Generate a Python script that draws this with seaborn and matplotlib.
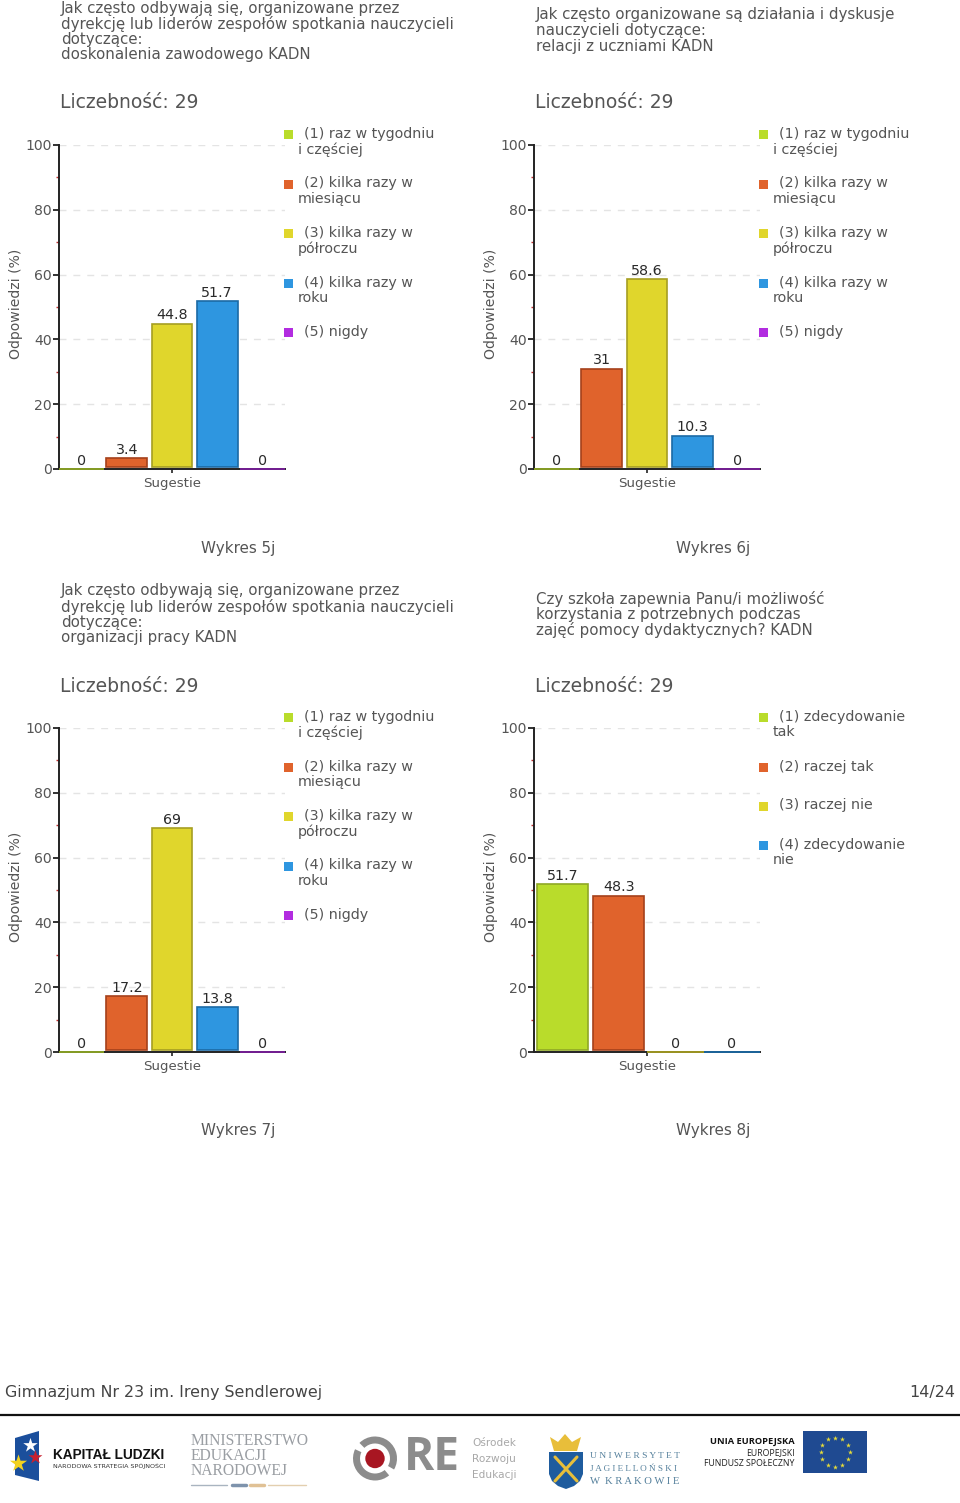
import numpy as np
import pandas as pd
import matplotlib
matplotlib.use("Agg")
import matplotlib.pyplot as plt
from matplotlib.patches import Polygon, Circle, Rectangle, Wedge
import seaborn as sns

# ─── Data ─────────────────────────────────────────────────────────────────────
freq_options = ["(1) raz w tygodniu\ni częściej", "(2) kilka razy w\nmiesiącu",
                "(3) kilka razy w\npółroczu", "(4) kilka razy w\nroku", "(5) nigdy"]
agree_options = ["(1) zdecydowanie\ntak", "(2) raczej tak", "(3) raczej nie",
                 "(4) zdecydowanie\nnie"]

values_5j = [0, 3.4, 44.8, 51.7, 0]
values_6j = [0, 31, 58.6, 10.3, 0]
values_7j = [0, 17.2, 69, 13.8, 0]
values_8j = [51.7, 48.3, 0, 0]

title_5j = ["Jak często odbywają się, organizowane przez",
            "dyrekcję lub liderów zespołów spotkania nauczycieli",
            "dotyczące:", "doskonalenia zawodowego KADN"]
title_6j = ["Jak często organizowane są działania i dyskusje",
            "nauczycieli dotyczące:", "relacji z uczniami KADN"]
title_7j = ["Jak często odbywają się, organizowane przez",
            "dyrekcję lub liderów zespołów spotkania nauczycieli",
            "dotyczące:", "organizacji pracy KADN"]
title_8j = ["Czy szkoła zapewnia Panu/i możliwość",
            "korzystania z potrzebnych podczas",
            "zajęć pomocy dydaktycznych? KADN"]

fills = ["#B9DC2B", "#E0632C", "#E0D62C", "#2E96E0", "#B22CE0"]
edges = ["#8FA825", "#A5411B", "#A69E22", "#1B6AA5", "#7A1F9C"]
y_ticks = [0, 20, 40, 60, 80, 100]

# ─── Layout (pixels) ──────────────────────────────────────────────────────────
W, H = 960, 1503
TEXT = "#555555"
FONT = "DejaVu Sans"

sns.set_theme(style="white")
plt.rcParams["font.family"] = FONT
fig = plt.figure(figsize=(W / 100, H / 100), dpi=100, facecolor="white")

page = fig.add_axes([0, 0, 1, 1], zorder=0)
page.set_xlim(0, W)
page.set_ylim(H, 0)
page.axis("off")


def px(size):
    return size * 0.72


def put(x, y, s, size=13, color=TEXT, ha="left", **kw):
    page.text(x, y, s, fontsize=px(size), color=color, ha=ha, va="center", **kw)


def panel(dx, dy, values, options, title, title_top, caption):
    for i, line in enumerate(title):
        put(dx + 61, title_top + i * 15.6, line, size=15)
    put(dx + 60, dy + 103, "Liczebność: 29", size=18.8)

    ax = fig.add_axes([(dx + 59) / W, 1 - (dy + 469) / H, 226 / W, 324 / H], zorder=1)
    ax.patch.set_alpha(0)
    df = pd.DataFrame({"group": "Sugestie", "option": options, "value": values})
    sns.barplot(data=df, x="group", y="value", hue="option", hue_order=options,
                palette=fills[:len(options)], saturation=1, width=1, gap=0.1,
                legend=False, ax=ax)

    # labels first, then lift the bars a little off the axis like the original
    for c, edge in zip(ax.containers, edges):
        ax.bar_label(c, fmt="%g", padding=1, fontsize=px(14.3), color="#2A2A2A")
        for bar in c:
            bar.set_edgecolor(edge)
            bar.set_linewidth(1.2)
            if bar.get_height() > 0:
                top = bar.get_height()
                bar.set_y(0.7)
                bar.set_height(top - 0.7)
            else:
                slot = bar.get_width() / 0.9
                bar.set_x(bar.get_x() + bar.get_width() / 2 - slot / 2)
                bar.set_width(slot)
                bar.set_linewidth(1.3)
                bar.set_zorder(6)
                bar.set_clip_on(False)

    ax.set_xlim(-0.5, 0.5)
    ax.set_ylim(0, 100)
    ax.set_yticks(y_ticks)
    ax.set_yticks([10, 30, 50, 70, 90], minor=True)
    ax.tick_params(axis="y", which="major", length=4.5, width=1.3, color="#222222",
                   labelsize=px(14), labelcolor=TEXT, pad=0.8, left=True)
    ax.tick_params(axis="y", which="minor", length=2, width=1, color="#C03030", left=True)
    ax.tick_params(axis="x", length=3, width=1.2, color="#222222", labelsize=px(13.4),
                   labelcolor=TEXT, pad=3, bottom=True)
    ax.set_xlabel("")
    ax.set_ylabel("Odpowiedzi (%)", fontsize=px(14), color=TEXT)
    ax.yaxis.set_label_coords(-0.16, 0.51)
    ax.yaxis.grid(True, color="#E4E4E4", linestyle=(0, (5, 5)), linewidth=1)
    ax.set_axisbelow(True)
    for side in ["top", "right"]:
        ax.spines[side].set_visible(False)
    for side in ["left", "bottom"]:
        ax.spines[side].set_color("#222222")
        ax.spines[side].set_linewidth(1.4)
        ax.spines[side].set_zorder(5)

    # legend, wrapped like the original html
    y = dy + 134
    for opt, fill in zip(options, fills):
        first, *rest = opt.split("\n")
        page.add_patch(Rectangle((dx + 284, y - 4), 9, 9, color=fill, lw=0))
        put(dx + 304, y, first, size=14.2)
        if rest:
            put(dx + 298, y + 15.5, rest[0], size=14.2)
        y += 49.5 if rest or len(options) == 5 else 39

    put(dx + 238, dy + 548, caption, size=15.1, ha="center")


panel(0, 0, values_5j, freq_options, title_5j, 8, "Wykres 5j")
panel(475, 0, values_6j, freq_options, title_6j, 15, "Wykres 6j")
panel(0, 583, values_7j, freq_options, title_7j, 591, "Wykres 7j")
panel(475, 583, values_8j, agree_options, title_8j, 599, "Wykres 8j")

# ─── Footer ───────────────────────────────────────────────────────────────────
put(5, 1392, "Gimnazjum Nr 23 im. Ireny Sendlerowej", size=15.9, color="#444444")
put(955, 1392, "14/24", size=16, color="#444444", ha="right")
page.plot([0, 960], [1415, 1415], color="#111111", lw=1.6)

# Kapital Ludzki
page.add_patch(Polygon([(15, 1438), (39, 1431), (39, 1481), (15, 1475)], color="#1B4F9C", lw=0))
page.scatter([30], [1445], marker="*", s=120, color="white", zorder=3, linewidths=0)
page.scatter([18], [1463], marker="*", s=170, color="#F2D21F", zorder=3, linewidths=0)
page.scatter([35], [1457], marker="*", s=110, color="#C8202F", zorder=3, linewidths=0)
put(53, 1455, "KAPITAŁ LUDZKI", size=13.6, color="#111111", fontweight="bold",
    family="Liberation Sans")
put(53, 1466, "NARODOWA STRATEGIA SPÓJNOŚCI", size=6.4, color="#333333")

# Ministerstwo
for i, line in enumerate(["MINISTERSTWO", "EDUKACJI", "NARODOWEJ"]):
    put(191, 1441 + i * 15, line, size=15.6, color="#9A9EA3", family="Liberation Serif")
page.plot([191, 227], [1485, 1485], color="#A9B4C0", lw=1)
page.plot([268, 306], [1485, 1485], color="#E3CFAF", lw=1)
page.plot([232, 246], [1485, 1485], color="#7E93AC", lw=2.5)
page.plot([250, 264], [1485, 1485], color="#E0C195", lw=2.5)

# ORE
page.add_patch(Wedge((375, 1458.5), 22, 50, 205, width=7, color="#8C8C8C", lw=0))
page.add_patch(Wedge((375, 1458.5), 22, 225, 390, width=7, color="#8C8C8C", lw=0))
page.add_patch(Circle((375, 1458.5), 9.7, color="#A81622", lw=0))
put(404, 1458, "RE", size=46, color="#8C8C8C", fontweight="bold", family="Open Sans")
for i, line in enumerate(["Ośrodek", "Rozwoju", "Edukacji"]):
    put(472, 1443 + i * 16, line, size=10.5, color="#A8A8A8")

# UJ
page.add_patch(Polygon([(549, 1452), (583, 1452), (583, 1474), (580, 1481), (574, 1486),
                        (566, 1489), (558, 1486), (552, 1481), (549, 1474)],
                       color="#1F5C9E", lw=0))
page.add_patch(Polygon([(550, 1437), (558, 1442), (565, 1434), (572, 1442), (581, 1437),
                        (577, 1451), (554, 1451)], color="#E8BE3A", lw=0))
page.plot([555, 577], [1457, 1481], color="#E8BE3A", lw=2.2)
page.plot([577, 555], [1457, 1481], color="#E8BE3A", lw=2.2)
put(590, 1456, "U N I W E R S Y T E T", size=9.5, color="#55809C", family="Liberation Serif")
put(590, 1469, "J A G I E L L O Ń S K I", size=9.2, color="#55809C", family="Liberation Serif")
put(590, 1482, "W  K R A K O W I E", size=10.6, color="#55809C", family="Liberation Serif")

# EU
put(795, 1442, "UNIA EUROPEJSKA", size=9.3, color="#111111", ha="right", fontweight="bold",
    family="Open Sans")
put(795, 1453, "EUROPEJSKI", size=8.8, color="#222222", ha="right", family="Open Sans")
put(795, 1463, "FUNDUSZ SPOŁECZNY", size=8.8, color="#222222", ha="right", family="Open Sans")
page.add_patch(Rectangle((803, 1431), 64, 42, color="#1F4A91", lw=0))
angles = np.deg2rad(np.arange(0, 360, 30))
page.scatter(835 + 14.5 * np.cos(angles), 1452 + 14.5 * np.sin(angles), marker="*", s=14,
             color="#E6DC3A", zorder=3, linewidths=0)

fig.savefig("out.png", dpi=100)
